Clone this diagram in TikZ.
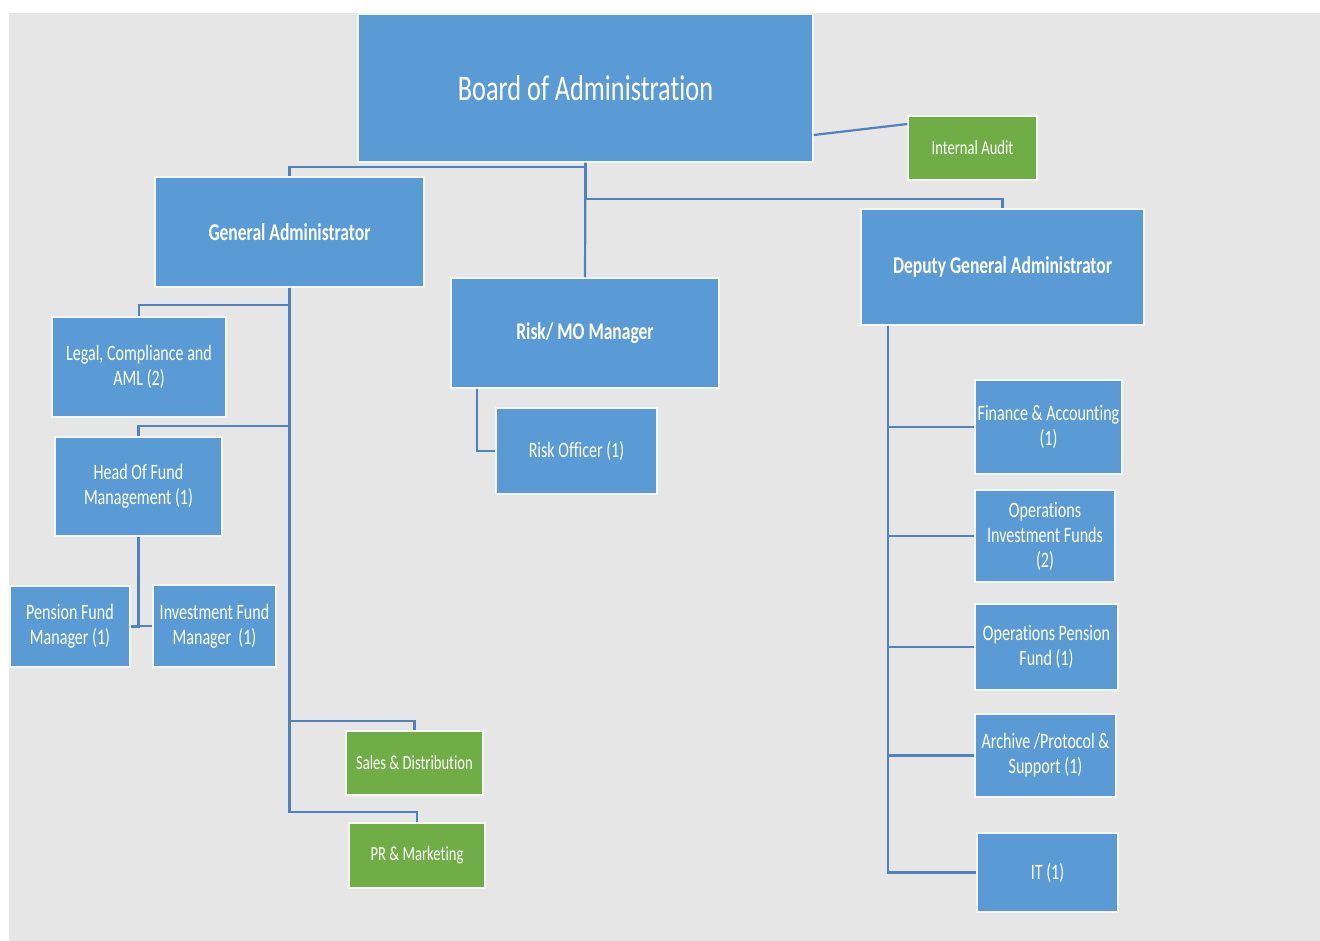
\documentclass[tikz,border=0pt]{standalone}
\usepackage{fontspec}
\setmainfont{Carlito}[FakeStretch=0.73, Ligatures=NoCommon]
\usepackage{xcolor}
\usepackage{tikz}
\usetikzlibrary{positioning}
\definecolor{boxblue}{RGB}{91,155,213}
\definecolor{boxgreen}{RGB}{112,173,71}
\definecolor{linkblue}{RGB}{80,130,190}
\definecolor{pagegray}{RGB}{230,230,230}

\begin{document}
\begin{tikzpicture}[x=1pt, y=-1pt,
    orgbox/.style={rectangle, draw=white!92!gray, line width=1.5pt, fill=boxblue, text=white, inner sep=0pt, align=center, font=\fontsize{22}{25}\selectfont},
    headbox/.style={orgbox, font=\fontsize{24}{28}\selectfont\bfseries},
    greenbox/.style={orgbox, fill=boxgreen, font=\fontsize{20}{24}\selectfont},
    link/.style={draw=linkblue, line width=2.2pt}
]
\useasboundingbox (0,0) rectangle (1320,941);
\fill[white] (0,0) rectangle (1320,941);
\fill[pagegray] (9,13) rectangle (1320,941);

% top level
\node[orgbox, minimum width=455pt, minimum height=148pt, font=\fontsize{36}{40}\selectfont] (board) at (585.5,88) {Board of Administration};
\node[greenbox, minimum width=129pt, minimum height=64pt] (audit) at (972.5,148) {Internal Audit};
\node[headbox, minimum width=269pt, minimum height=110pt] (ga) at (289.5,232) {General Administrator};
\node[headbox, minimum width=268pt, minimum height=110pt] (risk) at (585,333) {Risk/ MO Manager};
\node[headbox, minimum width=283pt, minimum height=116pt] (dga) at (1002.5,267) {Deputy General Administrator};

% under general administrator
\node[orgbox, minimum width=174pt, minimum height=100pt] (legal) at (139,367) {Legal, Compliance and\\AML (2)};
\node[orgbox, minimum width=167pt, minimum height=99pt] (head) at (138.5,486.5) {Head Of Fund\\Management (1)};
\node[orgbox, minimum width=120pt, minimum height=81pt] (pension) at (70,626.5) {Pension Fund\\Manager (1)};
\node[orgbox, minimum width=123pt, minimum height=82pt] (invest) at (214.5,626) {Investment Fund\\Manager~ (1)};
\node[greenbox, minimum width=137pt, minimum height=64pt] (sales) at (414.5,763) {Sales \& Distribution};
\node[greenbox, minimum width=136pt, minimum height=65pt] (pr) at (417,855.5) {PR \& Marketing};

% under risk manager
\node[orgbox, minimum width=161pt, minimum height=86pt] (officer) at (576.5,451) {Risk Officer (1)};

% under deputy
\node[orgbox, minimum width=147pt, minimum height=94pt] (fin) at (1048.5,427) {Finance \& Accounting\\(1)};
\node[orgbox, minimum width=140pt, minimum height=92pt] (opinv) at (1045,536) {Operations\\Investment Funds\\(2)};
\node[orgbox, minimum width=143pt, minimum height=86pt] (oppen) at (1046.5,647) {Operations Pension\\Fund (1)};
\node[orgbox, minimum width=141pt, minimum height=83pt] (archive) at (1045.5,755.5) {Archive /Protocol \&\\Support (1)};
\node[orgbox, minimum width=141pt, minimum height=79pt] (it) at (1047.5,872.5) {IT (1)};

% connectors
\draw[link] (board.south) -- ++(0,4) -| (ga.north);
\draw[link] (board.south) -- (risk.north);
\draw[link] (board.south) -- ++(0,36) -| (dga.north);
\draw[link] ([yshift=-47pt]board.east) -- ([yshift=24pt]audit.west);

\draw[link] (ga.south) -- ++(0,17) -| (legal.north);
\draw[link] (ga.south) -- ++(0,138) -| (head.north);
\draw[link] (ga.south) -- ++(0,433) -| (sales.north);
\draw[link] (ga.south) -- ++(0,524) -| (pr.north);
\draw[link] (head.south) |- (pension.east);
\draw[link] (head.south) |- (invest.west);

\draw[link] ([xshift=27pt]risk.south west) |- (officer.west);

\draw[link] ([xshift=28pt]dga.south west) |- (fin.west);
\draw[link] ([xshift=28pt]dga.south west) |- (opinv.west);
\draw[link] ([xshift=28pt]dga.south west) |- (oppen.west);
\draw[link] ([xshift=28pt]dga.south west) |- (archive.west);
\draw[link] ([xshift=28pt]dga.south west) |- (it.west);

\end{tikzpicture}
\end{document}
